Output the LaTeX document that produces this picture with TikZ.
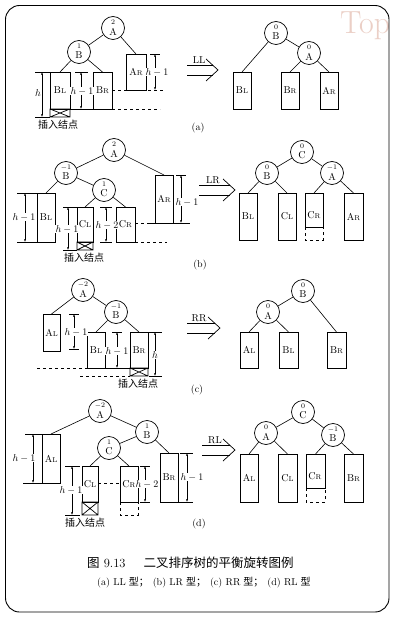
\documentclass[tikz,border=0pt]{standalone}
\usepackage{fontspec}
\newfontfamily\cjk{Noto Sans CJK SC}
\usetikzlibrary{arrows.meta}
\definecolor{wmark}{HTML}{EBCFC6}
\tikzset{
  circ/.style={draw, circle, minimum size=23pt, inner sep=0pt, line width=0.7pt},
  bx/.style={draw, rectangle, inner sep=0pt, outer sep=0pt, anchor=north west, line width=0.7pt},
  dimarr/.style={{Latex[length=2.6pt,width=2pt]}-{Latex[length=2.6pt,width=2pt]}, line width=0.5pt},
  tick/.style={line width=0.5pt},
  dlab/.style={fill=white, inner sep=0.6pt},
  edge/.style={line width=0.6pt},
  txt/.style={inner sep=0pt},
}
\newcommand\bs[1]{{\scriptsize #1}}
% box: name, x1, y1, x2, y2, label
\newcommand\mybox[6]{%
  \node[bx, minimum width={#4-#2}, minimum height={#5-#3}] (#1) at (#2,#3) {};
  \node[txt] (#1-l) at ({(#2+#4)/2},{(#3+#5)/2}) {#6};}
% circle: name, x, y, factor, letter
\newcommand\cn[5]{%
  \node[circ] (#1) at (#2,#3) {};
  \node[txt, font=\scriptsize] (#1-t) at ({#2},{#3-5.5}) {#4};
  \node[txt] (#1-b) at ({#2},{#3+3.5}) {#5};}
\newcommand\xbox[4]{\draw[line width=0.7pt] (#1,#2) rectangle (#3,#4) (#1,#2) -- (#3,#4) (#1,#4) -- (#3,#2);}
\newcommand\dbox[4]{\draw[dashed, line width=0.6pt] (#1,#2) -- (#1,#4) -- (#3,#4) -- (#3,#2);}
% dimension: name, x, y1, y2, labelx, labely, label
\newcommand\dimv[7]{%
  \draw[dimarr] (#2,#3) -- (#2,#4);
  \node[dlab] (#1) at (#5,#6) {#7};}
% double arrow: name, x1, x2, yc, label, labelx
\newcommand\dblarr[6]{%
  \draw[line width=0.7pt] (#2,{#4-5}) -- ({#3-5.5},{#4-5}) (#2,{#4+5}) -- ({#3-5.5},{#4+5});
  \draw[line width=0.7pt] ({#3-12},{#4-11}) -- (#3,#4) -- ({#3-12},{#4+11});
  \node[anchor=south, inner sep=1pt] (#1) at (#6,{#4-5}) {#5};}
\begin{document}
\begin{tikzpicture}[x=1pt,y=-1pt]
\useasboundingbox (0,0) rectangle (400,620);
\fill[white] (0,0) rectangle (400,620);
\begin{scope}
\clip (0,0) rectangle (388,620);
\node[anchor=base west, inner sep=0pt, text=wmark, font=\fontsize{32}{32}\selectfont] (wm) at (340,34) {Top};
\end{scope}

% ---------------- (a) left
\cn{aA}{113}{28}{2}{A}
\cn{aB}{79}{52}{1}{B}
\mybox{aBL}{50}{72}{70}{109}{B\bs{L}}
\xbox{50}{109}{70}{117}
\mybox{aBR}{93}{72}{112}{109}{B\bs{R}}
\mybox{aAR}{126}{54}{146}{90}{A\bs{R}}
\draw[edge] (aA) -- (aB) (aA) -- (aAR.north) (aB) -- (aBL.north) (aB) -- (aBR.north);
\draw[tick] (35,72) -- (50,72) (35,117) -- (50,117);
\dimv{ad1}{42}{72}{117}{38}{93}{$h$}
\draw[tick] (75,72) -- (88,72) (70,109) -- (93,109);
\dimv{ad2}{81}{72}{109}{82}{91}{$h-1$}
\draw[tick] (150,54) -- (160,54);
\draw[tick, dashed] (112,90) -- (163,90) (112,109) -- (160,109);
\dimv{ad3}{155}{54}{90}{157}{72}{$h-1$}
\node[txt, font=\cjk\fontsize{10}{10}\selectfont] (ains) at (58,125) {插入结点};

% ---------------- (a) right
\dblarr{aarr}{187}{218}{70}{LL}{199}
\cn{aB2}{276}{33}{0}{B}
\cn{aA2}{309}{53}{0}{A}
\mybox{aBL2}{233}{72}{251}{109}{B\bs{L}}
\mybox{aBR2}{281}{72}{299}{109}{B\bs{R}}
\mybox{aAR2}{320}{72}{338}{109}{A\bs{R}}
\draw[edge] (aB2) -- (aA2) (aB2) -- (aBL2.north) (aA2) -- (aBR2.north) (aA2) -- (aAR2.north);
\node[txt] (alab) at (198,128) {(a)};

% ---------------- (b) left
\cn{bA}{114}{150}{2}{A}
\cn{bB}{66}{173}{$-1$}{B}
\cn{bC}{104}{190}{1}{C}
\mybox{bBL}{37}{193}{55}{242}{B\bs{L}}
\mybox{bCL}{77}{207}{93}{242}{C\bs{L}}
\xbox{77}{242}{93}{250}
\mybox{bCR}{116}{207}{135}{242}{C\bs{R}}
\mybox{bAR}{155}{175}{173}{223}{A\bs{R}}
\draw[edge] (bA) -- (bB) (bA) -- (bAR.north) (bB) -- (bBL.north) (bB) -- (bC) (bC) -- (bCL.north) (bC) -- (bCR.north);
\draw[tick] (17,193) -- (37,193) (17,242) -- (37,242);
\dimv{bd1}{25}{193}{242}{24}{217}{$h-1$}
\draw[tick] (63,207) -- (77,207) (63,250) -- (77,250);
\dimv{bd2}{68}{207}{250}{67}{229}{$h-1$}
\draw[tick] (100,207) -- (112,207) (100,242) -- (112,242);
\dimv{bd3}{106}{207}{242}{107}{225}{$h-2$}
\draw[tick] (176,175) -- (186,175) (147,223) -- (190,223);
\draw[tick, dashed] (135,223) -- (147,223) (135,242) -- (167,242);
\dimv{bd4}{181}{175}{223}{187}{202}{$h-1$}
\node[txt, font=\cjk\fontsize{10}{10}\selectfont] (bins) at (84,258) {插入结点};

% ---------------- (b) right
\dblarr{barr}{199}{235}{190}{LR}{213}
\cn{bC2}{302}{152}{0}{C}
\cn{bB2}{267}{173}{0}{B}
\cn{bA2}{332}{173}{$-1$}{A}
\mybox{bBL2}{239}{193}{257}{240}{B\bs{L}}
\mybox{bCL2}{278}{193}{296}{240}{C\bs{L}}
\mybox{bCR2}{305}{193}{323}{227}{}
\node[txt] (bCR2t) at (314,215) {C\bs{R}};
\dbox{305}{227}{323}{240}
\mybox{bAR2}{344}{193}{363}{240}{A\bs{R}}
\draw[edge] (bC2) -- (bB2) (bC2) -- (bA2) (bB2) -- (bBL2.north) (bB2) -- (bCL2.north) (bA2) -- (bCR2.north) (bA2) -- (bAR2.north);
\node[txt] (blab) at (200,265) {(b)};

% ---------------- (c) left
\cn{cA}{83}{290}{$-2$}{A}
\cn{cB}{116}{312}{$-1$}{B}
\mybox{cAL}{43}{314}{60}{351}{A\bs{L}}
\mybox{cBL}{87}{332}{105}{368}{B\bs{L}}
\mybox{cBR}{130}{332}{148}{368}{B\bs{R}}
\xbox{130}{368}{148}{376}
\draw[edge] (cA) -- (cB) (cA) -- (cAL.north) (cB) -- (cBL.north) (cB) -- (cBR.north);
\draw[tick] (69,314) -- (79,314) (69,349) -- (79,349);
\dimv{cd1}{74}{314}{349}{76}{332}{$h-1$}
\draw[tick] (112,332) -- (122,332) (105,368) -- (130,368);
\dimv{cd2}{117}{332}{368}{117}{351}{$h-1$}
\draw[tick] (149,332) -- (162,332) (149,376) -- (162,376);
\dimv{cd3}{155}{332}{376}{155}{355}{$h$}
\draw[tick, dashed] (37,368) -- (87,368) (80,376) -- (130,376);
\node[txt, font=\cjk\fontsize{10}{10}\selectfont] (cins) at (138,384) {插入结点};

% ---------------- (c) right
\dblarr{carr}{187}{220}{328}{RR}{199}
\cn{cB2}{303}{291}{0}{B}
\cn{cA2}{268}{312}{0}{A}
\mybox{cAL2}{240}{332}{258}{368}{A\bs{L}}
\mybox{cBL2}{279}{332}{298}{368}{B\bs{L}}
\mybox{cBR2}{327}{332}{346}{368}{B\bs{R}}
\draw[edge] (cB2) -- (cA2) (cA2) -- (cAL2.north) (cA2) -- (cBL2.north) (cB2) -- (cBR2.north);
\node[txt] (clab) at (197,390) {(c)};

% ---------------- (d) left
\cn{dA}{100}{411}{$-2$}{A}
\cn{dB}{147}{432}{1}{B}
\cn{dC}{109}{448}{1}{C}
\mybox{dAL}{42}{434}{60}{483}{A\bs{L}}
\mybox{dCL}{82}{466}{98}{502}{C\bs{L}}
\xbox{82}{502}{98}{515}
\mybox{dCR}{120}{466}{138}{502}{C\bs{R}}
\dbox{120}{502}{138}{515}
\mybox{dBR}{160}{453}{178}{502}{B\bs{R}}
\draw[edge] (dA) -- (dAL.north) (dA) -- (dB) (dB) -- (dC) (dB) -- (dBR.north) (dC) -- (dCL.north) (dC) -- (dCR.north);
\draw[tick] (25,434) -- (42,434) (23,483) -- (42,483);
\dimv{dd1}{33}{434}{483}{24}{458}{$h-1$}
\draw[tick] (65,466) -- (80,466) (65,515) -- (80,515);
\dimv{dd2}{72}{466}{515}{71}{490}{$h-1$}
\draw[tick] (140,466) -- (150,466) (140,502) -- (150,502);
\dimv{dd3}{145}{466}{502}{147}{484}{$h-2$}
\draw[tick] (180,453) -- (193,453) (178,502) -- (193,502);
\dimv{dd4}{187}{453}{502}{192}{477}{$h-1$}
\draw[tick, dashed] (98,483) -- (120,483);
\node[txt, font=\cjk\fontsize{10}{10}\selectfont] (dins) at (85,523) {插入结点};

% ---------------- (d) right
\dblarr{darr}{202}{235}{450}{RL}{215}
\cn{dC2}{303}{412}{0}{C}
\cn{dA2}{266}{433}{0}{A}
\cn{dB2}{333}{435}{$-1$}{B}
\mybox{dAL2}{240}{454}{258}{502}{A\bs{L}}
\mybox{dCL2}{278}{454}{297}{502}{C\bs{L}}
\mybox{dCR2}{306}{454}{325}{488}{}
\node[txt] (dCR2t) at (315,476) {C\bs{R}};
\dbox{306}{488}{325}{502}
\mybox{dBR2}{344}{454}{363}{502}{B\bs{R}}
\draw[edge] (dC2) -- (dA2) (dC2) -- (dB2) (dA2) -- (dAL2.north) (dA2) -- (dCL2.north) (dB2) -- (dCR2.north) (dB2) -- (dBR2.north);
\node[txt] (dlab) at (199,524) {(d)};

% ---------------- caption
\node[anchor=west, inner sep=0pt, font=\fontsize{12.5}{12.5}\selectfont] (cap1) at (87,563) {{\cjk 图}~9.13\hspace{18pt}{\cjk 二叉排序树的平衡旋转图例}};
\node[anchor=west, inner sep=0pt, font=\fontsize{10}{10}\selectfont] (cap2) at (97,583) {(a)~LL\hspace{3pt}{\cjk 型；}\hspace{4pt}(b)~LR\hspace{3pt}{\cjk 型；}\hspace{4pt}(c)~RR\hspace{3pt}{\cjk 型；}\hspace{4pt}(d)~RL\hspace{3pt}{\cjk 型}};

% frame
\draw[line width=0.9pt, rounded corners=14pt] (5.5,5.5) rectangle (389,612);
\end{tikzpicture}
\end{document}
